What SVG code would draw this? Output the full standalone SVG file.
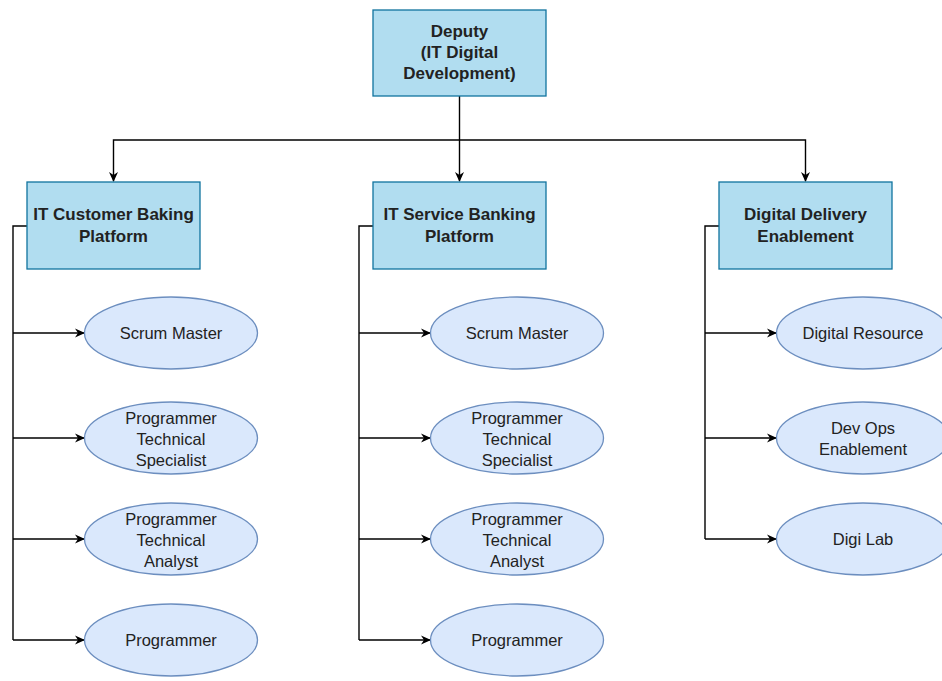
<svg xmlns="http://www.w3.org/2000/svg" width="942" height="681" viewBox="0 0 942 681">
  <style>
    .box { fill: #b1ddf0; stroke: #10739e; stroke-width: 1.3; }
    .role { fill: #dae8fc; stroke: #6c8ebf; stroke-width: 1.3; }
    .head { font-family: "Liberation Sans", Arial, sans-serif; font-size: 17px; font-weight: bold; fill: #222; text-anchor: middle; }
    .lbl { font-family: "Liberation Sans", Arial, sans-serif; font-size: 16.5px; fill: #222; text-anchor: middle; }
    .wire { fill: none; stroke: #000; stroke-width: 1.4; }
  </style>
  <defs>
    <marker id="arrow" viewBox="0 0 10 10" refX="9" refY="5" markerWidth="10" markerHeight="10" markerUnits="userSpaceOnUse" orient="auto">
      <path d="M0,0.5 L10,5 L0,9.5 L3,5 Z" fill="#000"/>
    </marker>
  </defs>
  <rect width="942" height="681" fill="#fff"/>

  <g id="connectors">
    <!-- top level fan-out -->
    <path class="wire" d="M459.5,96 V181" marker-end="url(#arrow)"/>
    <path class="wire" d="M459.5,140 H113.5 V181" marker-end="url(#arrow)"/>
    <path class="wire" d="M459.5,140 H805.5 V181" marker-end="url(#arrow)"/>
    <!-- IT Customer Baking Platform branch -->
    <path class="wire" d="M27,226 H13 V640"/>
    <path class="wire" d="M13,333 H84" marker-end="url(#arrow)"/>
    <path class="wire" d="M13,438 H84" marker-end="url(#arrow)"/>
    <path class="wire" d="M13,539 H84" marker-end="url(#arrow)"/>
    <path class="wire" d="M13,640 H84" marker-end="url(#arrow)"/>
    <!-- IT Service Banking Platform branch -->
    <path class="wire" d="M373,226 H359 V640"/>
    <path class="wire" d="M359,333 H430" marker-end="url(#arrow)"/>
    <path class="wire" d="M359,438 H430" marker-end="url(#arrow)"/>
    <path class="wire" d="M359,539 H430" marker-end="url(#arrow)"/>
    <path class="wire" d="M359,640 H430" marker-end="url(#arrow)"/>
    <!-- Digital Delivery Enablement branch -->
    <path class="wire" d="M719,226 H705 V539"/>
    <path class="wire" d="M705,333 H776" marker-end="url(#arrow)"/>
    <path class="wire" d="M705,438 H776" marker-end="url(#arrow)"/>
    <path class="wire" d="M705,539 H776" marker-end="url(#arrow)"/>
  </g>

  <g id="deputy">
    <rect class="box" x="373" y="10" width="173" height="86"/>
    <text class="head" x="459.5" y="37">Deputy</text>
    <text class="head" x="459.5" y="58">(IT Digital</text>
    <text class="head" x="459.5" y="79">Development)</text>
  </g>

  <g id="customer-platform">
    <rect class="box" x="27" y="182" width="173" height="87"/>
    <text class="head" x="113.5" y="220">IT Customer Baking</text>
    <text class="head" x="113.5" y="242">Platform</text>
  </g>
  <g id="service-platform">
    <rect class="box" x="373" y="182" width="173" height="87"/>
    <text class="head" x="459.5" y="220">IT Service Banking</text>
    <text class="head" x="459.5" y="242">Platform</text>
  </g>
  <g id="delivery-enablement">
    <rect class="box" x="719" y="182" width="173" height="87"/>
    <text class="head" x="805.5" y="220">Digital Delivery</text>
    <text class="head" x="805.5" y="242">Enablement</text>
  </g>

  <!-- IT Customer Baking Platform roles -->
  <g id="c-scrum">
    <ellipse class="role" cx="171" cy="333" rx="86.5" ry="36"/>
    <text class="lbl" x="171" y="339">Scrum Master</text>
  </g>
  <g id="c-specialist">
    <ellipse class="role" cx="171" cy="438" rx="86.5" ry="36"/>
    <text class="lbl" x="171" y="424">Programmer</text>
    <text class="lbl" x="171" y="444.5">Technical</text>
    <text class="lbl" x="171" y="466">Specialist</text>
  </g>
  <g id="c-analyst">
    <ellipse class="role" cx="171" cy="539" rx="86.5" ry="36"/>
    <text class="lbl" x="171" y="525">Programmer</text>
    <text class="lbl" x="171" y="545.5">Technical</text>
    <text class="lbl" x="171" y="567">Analyst</text>
  </g>
  <g id="c-programmer">
    <ellipse class="role" cx="171" cy="640" rx="86.5" ry="36"/>
    <text class="lbl" x="171" y="646">Programmer</text>
  </g>

  <!-- IT Service Banking Platform roles -->
  <g id="s-scrum">
    <ellipse class="role" cx="517" cy="333" rx="86.5" ry="36"/>
    <text class="lbl" x="517" y="339">Scrum Master</text>
  </g>
  <g id="s-specialist">
    <ellipse class="role" cx="517" cy="438" rx="86.5" ry="36"/>
    <text class="lbl" x="517" y="424">Programmer</text>
    <text class="lbl" x="517" y="444.5">Technical</text>
    <text class="lbl" x="517" y="466">Specialist</text>
  </g>
  <g id="s-analyst">
    <ellipse class="role" cx="517" cy="539" rx="86.5" ry="36"/>
    <text class="lbl" x="517" y="525">Programmer</text>
    <text class="lbl" x="517" y="545.5">Technical</text>
    <text class="lbl" x="517" y="567">Analyst</text>
  </g>
  <g id="s-programmer">
    <ellipse class="role" cx="517" cy="640" rx="86.5" ry="36"/>
    <text class="lbl" x="517" y="646">Programmer</text>
  </g>

  <!-- Digital Delivery Enablement roles -->
  <g id="d-resource">
    <ellipse class="role" cx="863" cy="333" rx="86.5" ry="36"/>
    <text class="lbl" x="863" y="339">Digital Resource</text>
  </g>
  <g id="d-devops">
    <ellipse class="role" cx="863" cy="438" rx="86.5" ry="36"/>
    <text class="lbl" x="863" y="434">Dev Ops</text>
    <text class="lbl" x="863" y="455">Enablement</text>
  </g>
  <g id="d-digilab">
    <ellipse class="role" cx="863" cy="539" rx="86.5" ry="36"/>
    <text class="lbl" x="863" y="545">Digi Lab</text>
  </g>
</svg>
